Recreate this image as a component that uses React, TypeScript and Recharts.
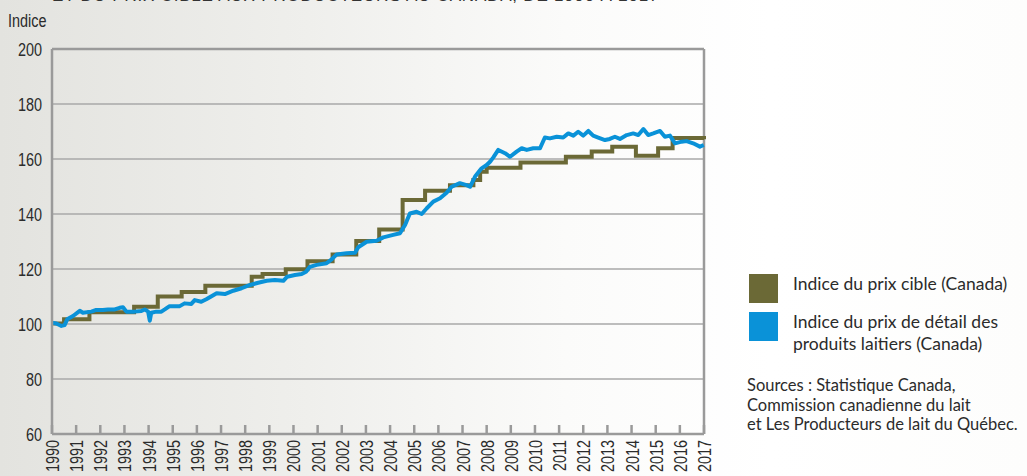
import { CartesianGrid, Line, LineChart, ReferenceLine, XAxis, YAxis } from "recharts";

// Indice du prix cible (Canada) — step changes (year, index)
const targetYears = [
  1990.0, 1990.5, 1991.55, 1993.4, 1994.38, 1995.37, 1996.35, 1998.27, 1998.72, 1999.68, 2000.58,
  2001.62, 2002.6, 2003.55, 2004.52, 2005.45, 2006.48, 2007.45, 2007.73, 2008.0, 2009.4, 2011.28,
  2012.35, 2013.2, 2014.18, 2015.1, 2015.7, 2017.0,
];
const targetValues = [
  100.2, 101.7, 104.3, 106.3, 110.0, 111.6, 113.9, 117.2, 118.2, 119.9, 122.8, 125.3, 130.2, 134.4,
  145.1, 148.5, 150.5, 152.4, 155.4, 156.8, 158.7, 160.8, 162.7, 164.5, 161.2, 163.9, 167.6, 167.2,
];

// Indice du prix de détail des produits laitiers (Canada)
const retailYears = [
  1990.0, 1990.18, 1990.39, 1990.52, 1990.63, 1990.87, 1991.15, 1991.28, 1991.63, 1991.83, 1992.11,
  1992.32, 1992.6, 1992.8, 1992.94, 1993.08, 1993.42, 1993.7, 1993.84, 1993.98, 1994.05, 1994.11,
  1994.32, 1994.53, 1994.67, 1994.87, 1995.08, 1995.29, 1995.49, 1995.77, 1995.91, 1996.18, 1996.39,
  1996.82, 1997.16, 1997.51, 1997.85, 1998.2, 1998.54, 1998.89, 1999.23, 1999.58, 1999.74, 2000.06,
  2000.34, 2000.52, 2000.68, 2000.96, 2001.37, 2001.58, 2001.79, 2002.2, 2002.55, 2002.68, 2003.03,
  2003.44, 2003.72, 2004.13, 2004.41, 2004.62, 2004.82, 2005.1, 2005.31, 2005.52, 2005.79, 2006.07,
  2006.34, 2006.55, 2006.89, 2007.17, 2007.31, 2007.52, 2007.79, 2008.0, 2008.14, 2008.27, 2008.48,
  2008.76, 2008.97, 2009.24, 2009.45, 2009.66, 2009.93, 2010.21, 2010.41, 2010.62, 2010.9, 2011.17,
  2011.38, 2011.59, 2011.79, 2012.0, 2012.21, 2012.41, 2012.62, 2012.9, 2013.1, 2013.31, 2013.52,
  2013.8, 2014.07, 2014.28, 2014.49, 2014.69, 2014.9, 2015.18, 2015.38, 2015.59, 2015.8, 2016.07,
  2016.28, 2016.55, 2016.83, 2016.99,
];
const retailValues = [
  100.5, 100.2, 99.3, 99.6, 101.7, 102.9, 104.8, 104.1, 104.5, 105.1, 105.1, 105.3, 105.3, 105.9,
  106.1, 104.5, 104.5, 104.7, 105.3, 104.5, 101.2, 104.1, 104.5, 104.5, 105.3, 106.5, 106.5, 106.5,
  107.5, 107.3, 108.7, 108.1, 109.0, 111.2, 110.9, 112.1, 113.0, 114.2, 115.0, 115.7, 116.0, 115.7,
  117.2, 117.8, 118.2, 119.0, 120.8, 121.5, 122.1, 123.5, 125.3, 125.7, 125.9, 127.9, 129.9, 130.3,
  131.5, 132.4, 133.0, 136.0, 140.2, 140.8, 140.0, 142.1, 144.5, 145.7, 147.7, 149.9, 151.2, 150.5,
  149.9, 153.6, 156.6, 157.8, 159.0, 160.5, 163.3, 162.1, 160.8, 162.7, 163.9, 163.3, 163.9, 163.9,
  167.8, 167.5, 168.1, 167.8, 169.3, 168.5, 169.9, 168.5, 170.2, 168.5, 167.8, 166.9, 167.3, 168.1,
  167.3, 168.7, 169.3, 168.7, 170.9, 168.7, 169.3, 170.2, 168.1, 168.5, 165.7, 166.3, 166.5, 165.7,
  164.5, 165.1,
];

const yearTicks = [
  1990, 1991, 1992, 1993, 1994, 1995, 1996, 1997, 1998, 1999, 2000, 2001, 2002, 2003, 2004, 2005,
  2006, 2007, 2008, 2009, 2010, 2011, 2012, 2013, 2014, 2015, 2016, 2017,
];
const indexTicks = [60, 80, 100, 120, 140, 160, 180, 200];

const legendItems = [
  { key: "cible", color: "#6b6936", lines: ["Indice du prix cible (Canada)"] },
  { key: "detail", color: "#0a92d8", lines: ["Indice du prix de détail des", "produits laitiers (Canada)"] },
];
const sourceLines = [
  "Sources : Statistique Canada,",
  "Commission canadienne du lait",
  "et Les Producteurs de lait du Québec.",
];

const target = targetYears.map((x, i) => ({ x, v: targetValues[i] }));
const retail = retailYears.map((x, i) => ({ x, v: retailValues[i] }));

const OLIVE = legendItems[0].color;
const BLUE = legendItems[1].color;
const AXIS = "#9a9a9a";
const INK = "#2b2b2b";
// condensed look: Liberation Sans squeezed horizontally
const axisFont = "'Liberation Sans', Arial, sans-serif";
const body = "Lato, 'Open Sans', sans-serif";

function YearTick({ x, y, payload }: any) {
  return (
    <g>
      <line x1={x} x2={x} y1={y} y2={y - 9} stroke={AXIS} strokeWidth={2.5} />
      <text
        transform={`translate(${x + 7},${y + 6}) rotate(-90) scale(0.76,1)`}
        textAnchor="end"
        fontSize={19}
        fontFamily={axisFont}
        fill={INK}
      >
        {payload.value}
      </text>
    </g>
  );
}

function IndexTick({ x, y, payload }: any) {
  return (
    <text
      transform={`translate(${x},${y + 7}) scale(0.76,1)`}
      textAnchor="end"
      fontSize={19}
      fontFamily={axisFont}
      fill={INK}
    >
      {payload.value}
    </text>
  );
}

function LegendBox() {
  return (
    <div style={{ position: "absolute", left: 749, top: 274, width: 278, fontFamily: body, color: INK }}>
      {legendItems.map((it) => (
        <div key={it.key} style={{ display: "flex", alignItems: "flex-start", marginBottom: 9 }}>
          <div style={{ width: 29, height: 29, background: it.color, flex: "none" }} />
          <div style={{ marginLeft: 15, fontSize: 17.5, lineHeight: "22px", marginTop: -1 }}>
            {it.lines.map((l) => (
              <div key={l}>{l}</div>
            ))}
          </div>
        </div>
      ))}
      <div style={{ fontSize: 16.5, lineHeight: "19.5px", marginTop: 21, marginLeft: -2 }}>
        {sourceLines.map((l) => (
          <div key={l}>{l}</div>
        ))}
      </div>
    </div>
  );
}

export default function App() {
  return (
    <div
      style={{
        position: "absolute",
        left: 0,
        top: 0,
        width: 1027,
        height: 476,
        overflow: "hidden",
        background: "linear-gradient(90deg, #e3e3df 0%, #efefec 30%, #fbfbfa 55%, #ffffff 75%, #fdfdfc 100%)",
      }}
    >
      <div
        style={{
          position: "absolute",
          left: 52,
          top: -14,
          fontFamily: axisFont,
          fontSize: 17,
          letterSpacing: 0.8,
          color: "#333",
          whiteSpace: "nowrap",
        }}
      >
        ET DU PRIX CIBLE AUX PRODUCTEURS AU CANADA, DE 1990 À 2017
      </div>
      <svg style={{ position: "absolute", left: 0, top: 0 }} width={60} height={36}>
        <text transform="translate(8,27) scale(0.76,1)" fontSize={19} fontFamily={axisFont} fill={INK}>
          Indice
        </text>
      </svg>
      <LineChart width={1027} height={476} margin={{ top: 49, right: 323, bottom: 0, left: 12 }}>
        <CartesianGrid vertical={false} stroke="#a8a8a8" strokeWidth={1.5} />
        <XAxis
          dataKey="x"
          type="number"
          domain={[1990, 2017]}
          ticks={yearTicks}
          interval={0}
          height={42}
          tickSize={0}
          tickMargin={0}
          tickLine={false}
          tick={<YearTick />}
          axisLine={{ stroke: AXIS, strokeWidth: 2.5 }}
        />
        <YAxis
          type="number"
          domain={[60, 200]}
          ticks={indexTicks}
          width={40}
          tickSize={0}
          tickMargin={10}
          tickLine={false}
          axisLine={{ stroke: AXIS, strokeWidth: 2.5 }}
          tick={<IndexTick />}
        />
        <ReferenceLine y={200} stroke={AXIS} strokeWidth={2.5} />
        <ReferenceLine x={2017} stroke={AXIS} strokeWidth={2.5} />
        <Line
          data={target}
          dataKey="v"
          type="stepAfter"
          stroke={OLIVE}
          strokeWidth={4}
          dot={false}
          isAnimationActive={false}
        />
        <Line
          data={retail}
          dataKey="v"
          type="linear"
          stroke={BLUE}
          strokeWidth={4}
          strokeLinejoin="round"
          dot={false}
          isAnimationActive={false}
        />
      </LineChart>
      <LegendBox />
    </div>
  );
}
